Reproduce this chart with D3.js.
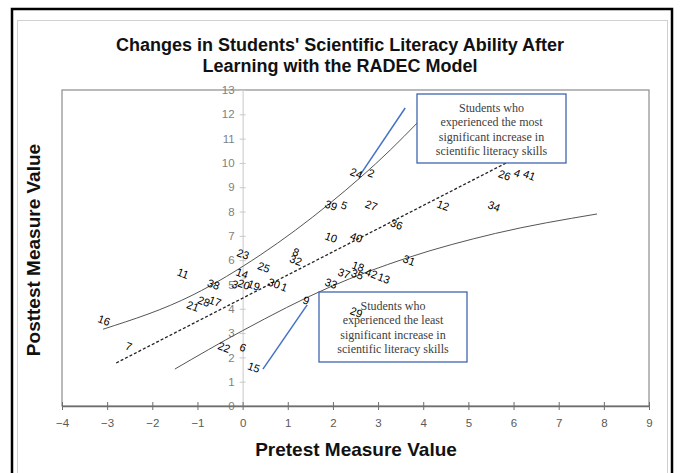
<!DOCTYPE html>
<html lang="en">
<head>
  <meta charset="UTF-8">
  <title>Changes in Students' Scientific Literacy Ability</title>
  <script src="https://d3js.org/d3.v7.min.js"></script>
  <style>
    body { margin: 0; background: #fff; font-family: "Liberation Sans", Arial, sans-serif; }
    .tick-x text { fill: #595959; font-size: 11.5px; }
    .tick-y text { fill: #7f7f7f; font-size: 11.5px; }
    .student { font-size: 11px; fill: #000; }
    .note { font-family: "Liberation Serif", "DejaVu Serif", serif; font-size: 12px; fill: #404040; }
  </style>
</head>
<body>
  <div id="chart"></div>
  <script>
    // student id, pretest (x), posttest (y)
    const students = [1, 2, 3, 4, 5, 6, 7, 8, 9, 10, 11, 12, 13, 14, 15, 16, 17, 18, 19, 20, 21,
      22, 23, 24, 25, 26, 27, 28, 29, 30, 31, 32, 33, 34, 35, 36, 37, 38, 39, 40, 41, 42];
    const pretest = [0.89, 2.82, -0.20, 6.05, 2.22, -0.02, -2.55, 1.15, 1.38, 1.93, -1.35, 4.41, 3.10, -0.04,
      0.22, -3.10, -0.64, 2.53, 0.22, 0.00, -1.13, -0.44, -0.02, 2.49, 0.44, 5.77, 2.82, -0.89, 2.49, 0.67,
      3.66, 1.15, 1.93, 5.54, 2.51, 3.38, 2.22, -0.67, 1.93, 2.49, 6.32, 2.82];
    const posttest = [4.90, 9.59, 5.02, 9.59, 8.27, 2.43, 2.47, 6.34, 4.36, 6.95, 5.47, 8.27, 5.27, 5.47,
      1.60, 3.54, 4.32, 5.76, 4.98, 5.02, 4.12, 2.43, 6.26, 9.59, 5.72, 9.51, 8.27, 4.32, 3.87, 5.06,
      6.01, 6.01, 5.06, 8.23, 5.43, 7.49, 5.47, 5.02, 8.27, 6.95, 9.51, 5.47];

    // guide curves
    const upperX = [-3.09, -1.1, 0.39, 1.94, 3.27, 3.87];
    const upperY = [3.16, 4.57, 6.21, 8.35, 10.53, 11.65];
    const middleX = [-2.8, 5.88];
    const middleY = [1.77, 10.04];
    const lowerX = [-1.5, 0, 1.94, 3.64, 5.6, 7.85];
    const lowerY = [1.52, 3.1, 4.9, 6.09, 7.1, 7.9];
    const blueTopX = [2.6, 3.6];
    const blueTopY = [9.5, 12.26];
    const blueBottomX = [0.45, 1.43];
    const blueBottomY = [1.52, 4.16];

    const xTicks = d3.range(-4, 10);
    const yTicks = d3.range(0, 14);

    const noteMost = ["Students who", "experienced the most", "significant increase in", "scientific literacy skills"];
    const noteLeast = ["Students who", "experienced the least", "significant increase in", "scientific literacy skills"];

    const W = 681, H = 473;
    const svg = d3.select("#chart").append("svg")
      .attr("width", W).attr("height", H);

    // frames
    svg.append("rect").attr("x", 12).attr("y", 9).attr("width", 660).attr("height", 480)
      .attr("fill", "none").attr("stroke", "#000").attr("stroke-width", 2.5);
    svg.append("rect").attr("x", 17.5).attr("y", 20.5).attr("width", 650).attr("height", 470)
      .attr("fill", "none").attr("stroke", "#d0d0d0").attr("stroke-width", 1);

    const x = d3.scaleLinear().domain([-4, 9]).range([62, 649]);
    const y = d3.scaleLinear().domain([0, 13]).range([406, 90]);

    // plot border
    svg.append("rect").attr("x", x(-4)).attr("y", y(13))
      .attr("width", x(9) - x(-4)).attr("height", y(0) - y(13))
      .attr("fill", "none").attr("stroke", "#8c8c8c").attr("stroke-width", 1.2);

    // y axis through x = 0
    const yAxis = svg.append("g").attr("class", "tick-y")
      .attr("transform", "translate(" + x(0) + ",0)")
      .call(d3.axisLeft(y).tickValues(yTicks).tickSize(0).tickPadding(8).tickFormat(d3.format("d")));
    yAxis.select(".domain").attr("stroke", "#c8c8c8");
    yAxis.selectAll(".tick").append("line").attr("x1", -3).attr("x2", 3).attr("stroke", "#c8c8c8");

    // x axis at y = 0
    const xAxis = svg.append("g").attr("class", "tick-x")
      .attr("transform", "translate(0," + y(0) + ")")
      .call(d3.axisBottom(x).tickValues(xTicks).tickSize(0).tickPadding(13).tickFormat(d3.format("d")));
    xAxis.select(".domain").attr("stroke", "#6e6e6e").attr("stroke-width", 1.5);
    xAxis.selectAll(".tick").append("line").attr("y1", -4).attr("y2", 4).attr("stroke", "#6e6e6e");
    xAxis.selectAll("text").style("font-family", "Liberation Sans, Arial, sans-serif");
    yAxis.selectAll("text").style("font-family", "Liberation Sans, Arial, sans-serif");

    const line = d3.line().x(d => x(d[0])).y(d => y(d[1])).curve(d3.curveMonotoneX);
    const pairs = (a, b) => a.map((v, i) => [v, b[i]]);

    svg.append("path").attr("d", line(pairs(upperX, upperY)))
      .attr("fill", "none").attr("stroke", "#555").attr("stroke-width", 1);
    svg.append("path").attr("d", line(pairs(lowerX, lowerY)))
      .attr("fill", "none").attr("stroke", "#555").attr("stroke-width", 1);
    svg.append("path").attr("d", line(pairs(middleX, middleY)))
      .attr("fill", "none").attr("stroke", "#222").attr("stroke-width", 1.3)
      .attr("stroke-dasharray", "3,2");
    svg.append("path").attr("d", line(pairs(blueTopX, blueTopY)))
      .attr("fill", "none").attr("stroke", "#4472c4").attr("stroke-width", 1.5);
    svg.append("path").attr("d", line(pairs(blueBottomX, blueBottomY)))
      .attr("fill", "none").attr("stroke", "#4472c4").attr("stroke-width", 1.5);

    // annotation boxes
    function note(lines, x0, y0, w, h) {
      svg.append("rect").attr("x", x0).attr("y", y0).attr("width", w).attr("height", h)
        .attr("fill", "#fff").attr("stroke", "#3f66b0").attr("stroke-width", 1.3);
      svg.append("g").selectAll("text").data(lines).enter().append("text")
        .attr("class", "note")
        .attr("text-anchor", "middle")
        .attr("x", x0 + w / 2)
        .attr("y", (d, i) => y0 + 18 + i * 14.3)
        .text(d => d);
    }
    note(noteMost, 417, 94, 149, 69);
    note(noteLeast, 319, 292, 148, 70);

    // student labels
    svg.append("g").selectAll("text")
      .data(students.map((s, i) => ({id: s, px: pretest[i], py: posttest[i]})))
      .enter().append("text")
      .attr("class", "student")
      .attr("text-anchor", "middle")
      .attr("transform", d => "translate(" + x(d.px) + "," + (y(d.py) + 4) + ") rotate(20)")
      .text(d => d.id);

    // title
    svg.append("text").attr("x", 340).attr("y", 51).attr("text-anchor", "middle")
      .style("font-weight", "bold").style("font-size", "18px").attr("fill", "#111")
      .text("Changes in Students' Scientific Literacy Ability After");
    svg.append("text").attr("x", 340).attr("y", 72).attr("text-anchor", "middle")
      .style("font-weight", "bold").style("font-size", "18px").attr("fill", "#111")
      .text("Learning with the RADEC Model");

    // axis labels
    svg.append("text").attr("x", 356).attr("y", 456).attr("text-anchor", "middle")
      .style("font-weight", "bold").style("font-size", "19px").attr("fill", "#111")
      .text("Pretest Measure Value");
    svg.append("text").attr("transform", "rotate(-90)")
      .attr("x", -250).attr("y", 40).attr("text-anchor", "middle")
      .style("font-weight", "bold").style("font-size", "19px").attr("fill", "#111")
      .text("Posttest Measure Value");
  </script>
</body>
</html>
